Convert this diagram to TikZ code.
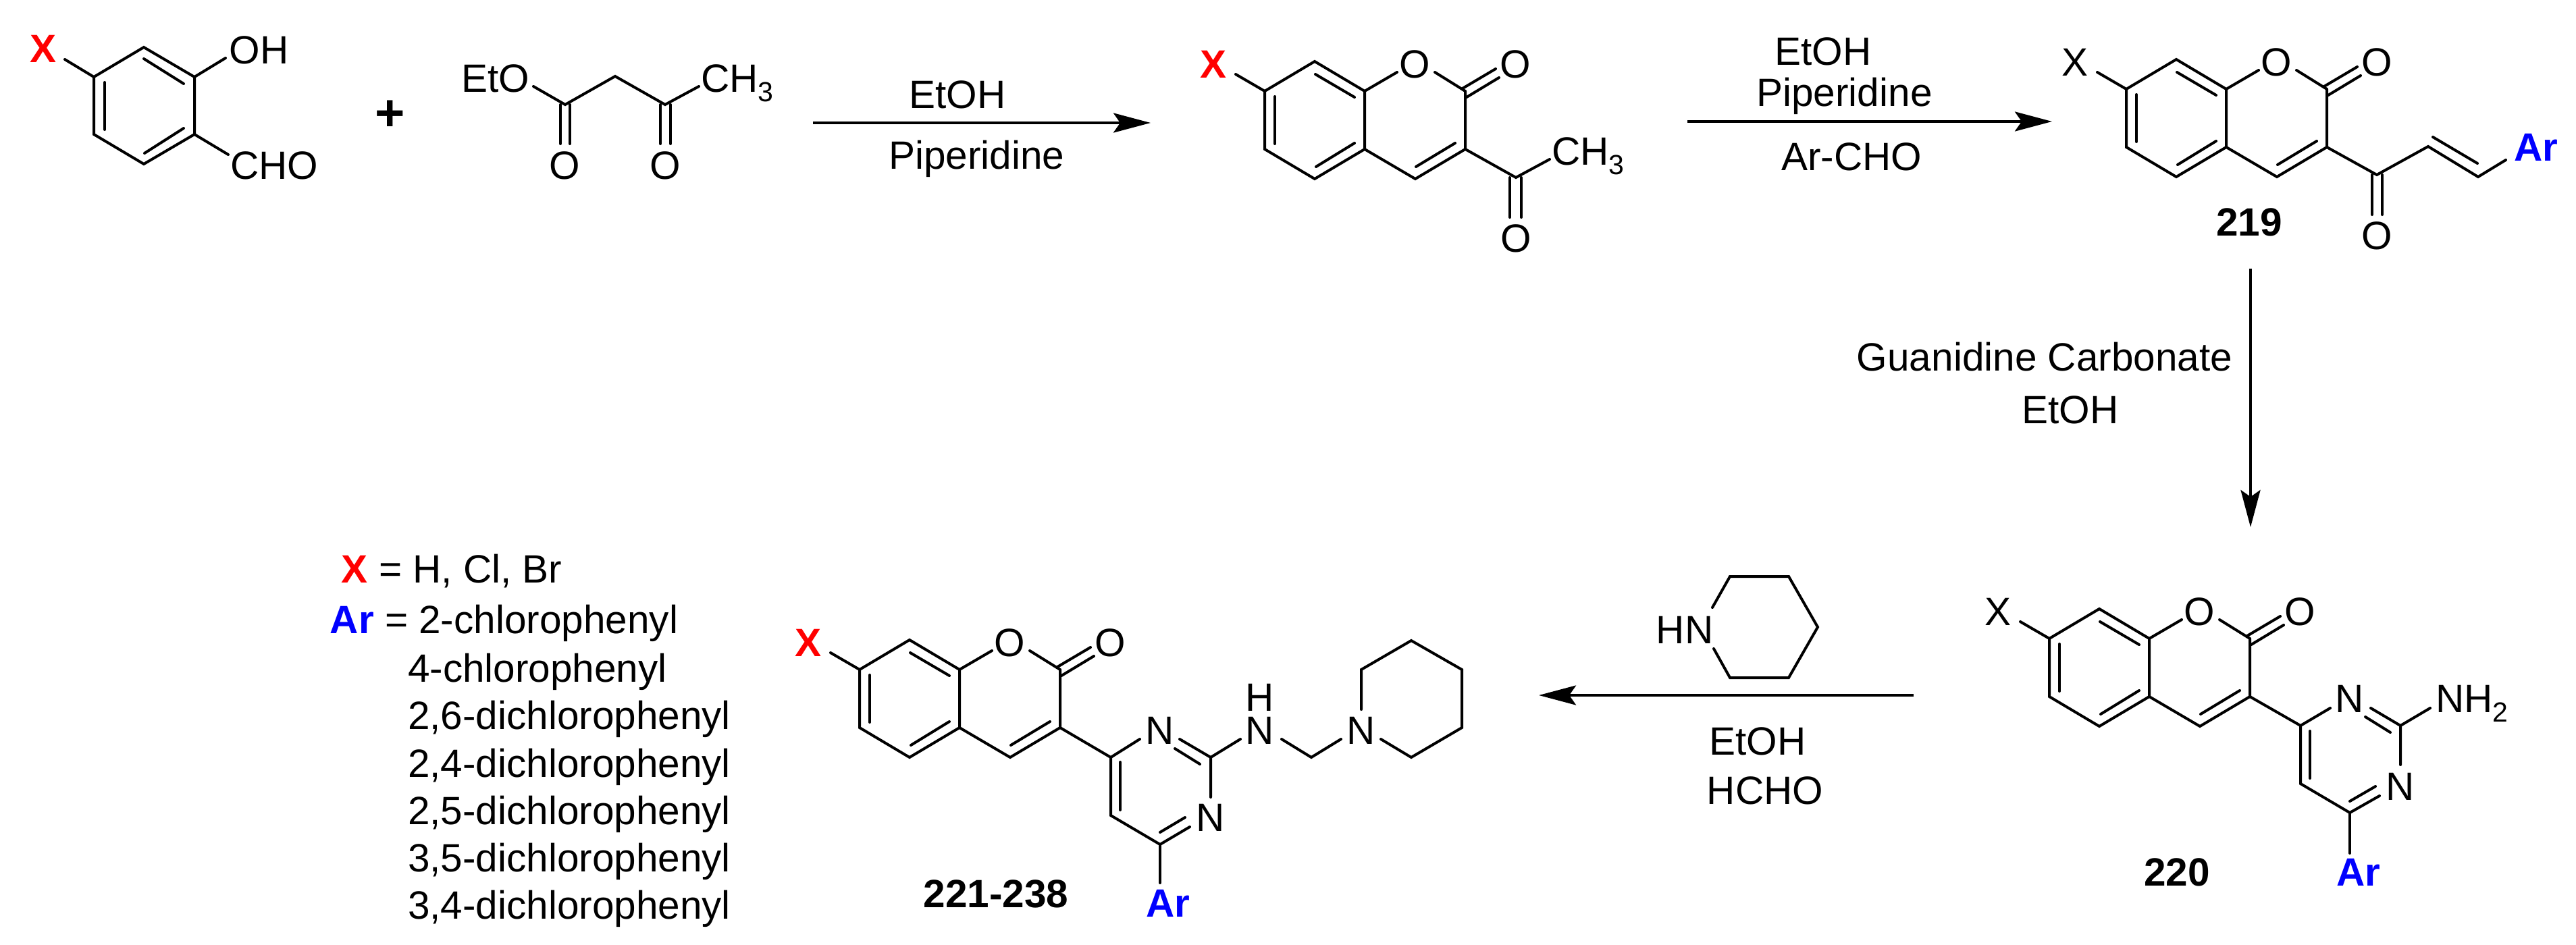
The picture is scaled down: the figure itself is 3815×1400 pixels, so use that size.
\documentclass[tikz,border=0pt]{standalone}
\usepackage{fontspec}
\setmainfont{Liberation Sans}
\usetikzlibrary{arrows.meta}
\definecolor{xred}{RGB}{255,0,0}
\definecolor{arblue}{RGB}{0,0,255}
\newcommand\lab{\fontsize{58.5}{64}\selectfont}
\newcommand\lowered[1]{\raisebox{-14pt}{\fontsize{41}{41}\selectfont #1}}
\newcommand\pts[1]{\foreach \pn/\pa/\pb in {#1} \coordinate (\pn) at (\pa,\pb);}
\tikzset{
  x=1pt,y=-1pt,
  bond/.style={line width=4pt,line cap=round,line join=miter,draw=black},
  rxn/.style={line width=4pt,draw=black,-{Stealth[length=55pt,width=29pt,inset=10pt]}},
  txt/.style={inner sep=0pt,outer sep=0pt,anchor=base,font=\lab,text=black},
  txtl/.style={txt,anchor=base west},
  bld/.style={txt,font=\lab\bfseries},
  xmark/.style={bld,text=xred},
  xplain/.style={txt},
  armark/.style={bld,text=arblue},
}
% coumarin core, drawn about atom C8a
\newcommand\coumarincore[4]{%
\begin{scope}[shift={(#2,#3)},name prefix=#1-]
  \pts{c7/-148/0,top/-74/-44,c8a/0/0,c4a/0/86,bot/-74/130,c6/-148/86,c2/149/0,c3/149/86,c4/75/130,
       oa/48/-28,ob/104/-28,ca/145/-4,cb/194/-33,cc/151/9,cd/199/-20,
       ia/-73/-25,ib/-15/9,ic/-133/8,id/-133/78,ie/-15/77,if/-72/112,ig/134/77,ih/76/112,xe/-191/-25}
  \node[txt] (o1) at (74,-20) {O};
  \node[txt] (o2) at (223,-20) {O};
  \node[#4] (xl) at (-224,-20) {X};
  \draw[bond] (c8a) -- (top) -- (c7) -- (c6) -- (bot) -- (c4a) -- cycle;
  \draw[bond] (c4a) -- (c4) -- (c3) -- (c2);
  \draw[bond] (c8a) -- (oa);
  \draw[bond] (ob) -- (c2);
  \draw[bond] (ca) -- (cb);
  \draw[bond] (cc) -- (cd);
  \draw[bond] (ia) -- (ib);
  \draw[bond] (ic) -- (id);
  \draw[bond] (ie) -- (if);
  \draw[bond] (ig) -- (ih);
  \draw[bond] (c7) -- (xe);
\end{scope}}
\begin{document}
\begin{tikzpicture}
\useasboundingbox (0,0) rectangle (3815,1400);
\fill[white] (0,0) rectangle (3815,1400);

% --- salicylaldehyde
\pts{a1/213/70,a2/288/114,a3/288/199,a4/213/243,a5/139/199,a6/139/114,
     ab1/96/88,ab2/334/86,ab3/338/229,
     ai1/213/87,ai2/272/124,ai3/155/122,ai4/155/192,ai5/272/190,ai6/214/227}
\draw[bond] (a1) -- (a2) -- (a3) -- (a4) -- (a5) -- (a6) -- cycle;
\draw[bond] (ai1) -- (ai2);
\draw[bond] (ai3) -- (ai4);
\draw[bond] (ai5) -- (ai6);
\draw[bond] (a6) -- (ab1);
\draw[bond] (a2) -- (ab2);
\draw[bond] (a3) -- (ab3);
\node[xmark] (ax) at (64,92) {X};
\node[txt] (aoh) at (383.5,94) {OH};
\node[txt] (acho) at (406,265) {CHO};

\node[bld,font=\fontsize{76}{80}\selectfont\bfseries] (plus) at (578,193) {+};

% --- ethyl acetoacetate
\pts{b1/790/128,b2/837/155,b3/911/113,b4/985/155,b5/1035/128,
     bo1/830/155,bo2/830/213,bo3/844/155,bo4/844/213,bo5/978/155,bo6/978/213,bo7/993/155,bo8/993/213}
\node[txt] (beto) at (734,136) {EtO};
\node[txtl] (bch3) at (1038,136) {CH\lowered{3}};
\node[txt] (bo) at (836,265) {O};
\node[txt] (bop) at (985,265) {O};
\draw[bond] (b1) -- (b2) -- (b3) -- (b4) -- (b5);
\draw[bond] (bo1) -- (bo2);
\draw[bond] (bo3) -- (bo4);
\draw[bond] (bo5) -- (bo6);
\draw[bond] (bo7) -- (bo8);

% --- arrow 1
\pts{r1s/1204/182,r1e/1704/182}
\draw[rxn] (r1s) -- (r1e);
\node[txt] (r1a) at (1418,160) {EtOH};
\node[txt] (r1b) at (1446.5,250) {Piperidine};

% --- 3-acetylcoumarin
\coumarincore{m}{2021}{135}{xmark}
\pts{m1/2245/263,m2/2295/236,mo1/2236/263,mo2/2236/322,mo3/2253/263,mo4/2253/322}
\draw[bond] (m-c3) -- (m1) -- (m2);
\draw[bond] (mo1) -- (mo2);
\draw[bond] (mo3) -- (mo4);
\node[txtl] (mch3) at (2298,244) {CH\lowered{3}};
\node[txt] (mo) at (2245,373) {O};

% --- arrow 2
\pts{r2s/2499/180,r2e/3039/180}
\draw[rxn] (r2s) -- (r2e);
\node[txt] (r2a) at (2700,96) {EtOH};
\node[txt] (r2b) at (2731.5,157) {Piperidine};
\node[txt] (r2c) at (2742,252) {Ar-CHO};

% --- 219
\coumarincore{n}{3297}{132}{xplain}
\pts{n1/3520/259,n2/3596/217,n3/3670/262,n4/3711/237,ni1/3603/203,ni2/3669/242,
     no1/3513/259,no2/3513/318,no3/3528/259,no4/3528/318}
\draw[bond] (n-c3) -- (n1) -- (n2) -- (n3) -- (n4);
\draw[bond] (ni1) -- (ni2);
\draw[bond] (no1) -- (no2);
\draw[bond] (no3) -- (no4);
\node[txt] (no) at (3520,369) {O};
\node[armark] (nar) at (3755.5,238) {Ar};
\node[bld] (n219) at (3331,349) {219};

% --- arrow 3
\pts{r3s/3333/398,r3e/3333/781}
\draw[rxn] (r3s) -- (r3e);
\node[txt] (r3a) at (3028,549) {Guanidine Carbonate};
\node[txt] (r3b) at (3066,627) {EtOH};

% --- 220
\coumarincore{p}{3183}{946}{xplain}
\pts{p1/3407/1075,p2/3451/1049,p3/3555/1075,p4/3511/1049,pi1/3503/1062,pi2/3540/1085,
     p5/3555/1133,p6/3524/1179,p7/3480/1204,pi3/3518/1165,pi4/3480/1187,p8/3407/1161,
     pi5/3421/1083,pi6/3421/1153,p9/3480/1264,p10/3599/1049}
\draw[bond] (p-c3) -- (p1) -- (p2);
\draw[bond] (p4) -- (p3) -- (p5);
\draw[bond] (pi1) -- (pi2);
\draw[bond] (p6) -- (p7) -- (p8) -- (p1);
\draw[bond] (pi3) -- (pi4);
\draw[bond] (pi5) -- (pi6);
\draw[bond] (p7) -- (p9);
\draw[bond] (p3) -- (p10);
\node[txt] (pn3) at (3480,1055) {N};
\node[txt] (pn1) at (3555,1185) {N};
\node[txtl] (pnh2) at (3607,1055) {NH\lowered{2}};
\node[armark] (par) at (3492.5,1312) {Ar};
\node[bld] (p220) at (3224,1312) {220};

% --- arrow 4
\pts{r4s/2834/1030,r4e/2279/1030}
\draw[rxn] (r4s) -- (r4e);
\pts{h1/2536/900,h2/2562/854,h3/2649/854,h4/2692/929,h5/2649/1004,h6/2562/1004,h7/2538/961}
\draw[bond] (h1) -- (h2) -- (h3) -- (h4) -- (h5) -- (h6) -- (h7);
\node[txt] (hn) at (2495,953) {HN};
\node[txt] (r4a) at (2603,1118) {EtOH};
\node[txt] (r4b) at (2614,1191) {HCHO};

% --- 221-238
\coumarincore{q}{1421}{992}{xmark}
\pts{q1/1645/1122,q2/1688/1095,q3/1793/1122,q4/1747/1095,qi1/1740/1109,qi2/1777/1132,
     q5/1793/1181,q6/1762/1225,q7/1718/1251,qi3/1755/1211,qi4/1718/1233,q8/1645/1208,
     qi5/1659/1129,qi6/1659/1200,q9/1718/1308,q10/1837/1095,
     q11/1898/1095,q12/1942/1122,q13/1986/1095,
     w1/2016/1051,w2/2016/992,w3/2090/949,w4/2165/992,w5/2165/1078,w6/2090/1122,w7/2045/1095}
\draw[bond] (q-c3) -- (q1) -- (q2);
\draw[bond] (q4) -- (q3) -- (q5);
\draw[bond] (qi1) -- (qi2);
\draw[bond] (q6) -- (q7) -- (q8) -- (q1);
\draw[bond] (qi3) -- (qi4);
\draw[bond] (qi5) -- (qi6);
\draw[bond] (q7) -- (q9);
\draw[bond] (q3) -- (q10);
\draw[bond] (q11) -- (q12) -- (q13);
\draw[bond] (w1) -- (w2) -- (w3) -- (w4) -- (w5) -- (w6) -- (w7);
\node[txt] (qn3) at (1718,1102) {N};
\node[txt] (qn1) at (1793,1231) {N};
\node[txt] (qnh) at (1866,1102) {N};
\node[txt] (qh) at (1866,1053) {H};
\node[txt] (qnp) at (2016,1102) {N};
\node[armark] (qar) at (1729.5,1358) {Ar};
\node[bld] (q221) at (1475,1344) {221-238};

% --- legend
\node[xmark] (lx) at (525,863) {X};
\node[txtl] (lxv) at (561,863) {= H, Cl, Br};
\node[armark] (lar) at (521.5,938) {Ar};
\node[txtl] (l1) at (570,938) {= 2-chlorophenyl};
\node[txtl] (l2) at (604,1010) {4-chlorophenyl};
\node[txtl] (l3) at (604,1080) {2,6-dichlorophenyl};
\node[txtl] (l4) at (604,1151) {2,4-dichlorophenyl};
\node[txtl] (l5) at (604,1221) {2,5-dichlorophenyl};
\node[txtl] (l6) at (604,1291) {3,5-dichlorophenyl};
\node[txtl] (l7) at (604,1361) {3,4-dichlorophenyl};
\end{tikzpicture}
\end{document}
